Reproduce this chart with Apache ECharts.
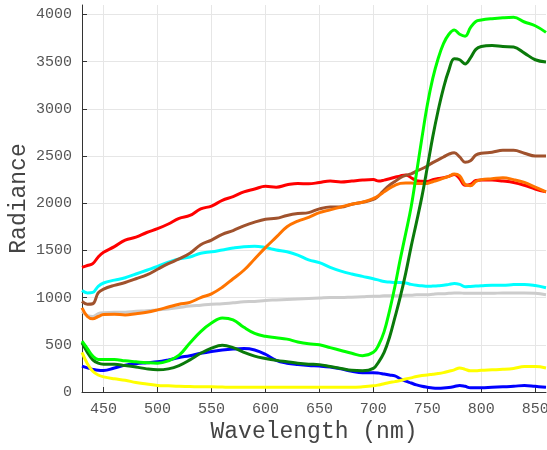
<!DOCTYPE html>
<html>
<head>
<meta charset="utf-8">
<script src="https://cdn.jsdelivr.net/npm/echarts@6/dist/echarts.min.js"></script>
<style>html,body{margin:0;padding:0;background:#fff}#c{width:547px;height:450px}</style>
</head>
<body>
<div id="c"></div>
<script>
const wavelengths = [430,435,440,445,450,460,470,480,490,500,510,520,530,540,550,560,570,580,590,600,610,620,630,640,650,660,670,680,690,700,705,710,715,720,725,730,735,740,745,750,755,760,765,770,775,780,785,790,795,800,810,820,830,840,850,860];

const silverVals = [855,810,800,830,840,845,845,855,860,870,880,895,910,920,930,935,945,955,960,970,975,980,985,990,995,1000,1000,1005,1010,1015,1015,1020,1020,1020,1020,1025,1025,1030,1030,1030,1035,1040,1040,1045,1050,1050,1045,1045,1045,1045,1045,1050,1050,1050,1045,1030];
const cyanVals = [1075,1050,1055,1120,1155,1185,1210,1250,1290,1330,1375,1410,1430,1470,1485,1505,1525,1540,1545,1530,1505,1485,1450,1400,1370,1320,1280,1250,1225,1200,1185,1170,1165,1160,1160,1155,1140,1130,1125,1120,1122,1125,1130,1140,1150,1140,1115,1118,1122,1125,1130,1130,1138,1140,1128,1105];
const blueVals = [275,255,240,230,228,255,285,300,310,320,340,365,385,410,430,445,455,460,445,400,335,305,290,280,275,265,245,220,205,205,200,190,180,170,140,115,95,75,60,50,42,40,42,48,58,70,60,45,45,45,50,55,60,70,60,50];
const yellowVals = [420,300,220,180,160,140,125,100,85,70,65,60,58,55,55,52,50,50,50,50,50,50,50,50,50,50,50,50,55,65,75,88,100,110,122,138,150,165,175,180,188,195,205,220,235,255,240,225,225,230,235,240,250,270,270,255];
const redVals = [1320,1340,1360,1430,1480,1540,1610,1640,1690,1730,1780,1840,1870,1940,1970,2030,2070,2120,2150,2180,2170,2195,2210,2205,2220,2235,2225,2235,2245,2250,2235,2245,2260,2275,2290,2300,2270,2240,2232,2230,2250,2262,2270,2285,2305,2260,2190,2200,2240,2245,2245,2235,2220,2190,2150,2120];
const brownVals = [960,930,935,1050,1090,1130,1160,1200,1240,1300,1360,1410,1470,1560,1610,1670,1710,1760,1800,1830,1840,1870,1890,1900,1940,1960,1960,1990,2010,2040,2080,2140,2190,2230,2270,2295,2310,2340,2365,2395,2430,2460,2490,2520,2535,2490,2435,2450,2510,2530,2540,2560,2560,2530,2500,2500];
const orangeVals = [890,800,775,800,820,825,815,830,845,870,900,930,950,1000,1040,1110,1200,1290,1410,1530,1640,1750,1810,1850,1900,1930,1960,1990,2010,2050,2080,2120,2160,2190,2210,2215,2215,2210,2208,2210,2228,2245,2265,2285,2310,2290,2200,2185,2230,2250,2260,2270,2250,2220,2170,2120];
const greenVals = [520,420,340,305,295,295,280,265,245,235,245,280,340,410,465,495,470,420,380,355,335,320,305,295,290,270,250,230,225,250,320,420,580,790,1010,1260,1540,1800,2070,2380,2700,2980,3220,3410,3530,3520,3475,3540,3630,3660,3670,3660,3655,3590,3520,3495];
const limeVals = [540,460,380,345,345,345,330,320,310,305,330,390,520,640,730,785,765,685,620,590,575,560,530,510,500,470,440,410,385,420,500,640,860,1120,1410,1680,1960,2320,2690,3040,3320,3530,3690,3790,3835,3790,3770,3860,3925,3940,3955,3965,3970,3920,3880,3810];

const seriesDefs = [
  ['silver', silverVals, '#cccccc'],
  ['cyan', cyanVals, '#00ffff'],
  ['blue', blueVals, '#0000ff'],
  ['yellow', yellowVals, '#ffff00'],
  ['red', redVals, '#ff0000'],
  ['brown', brownVals, '#a0522d'],
  ['orange', orangeVals, '#ff7400'],
  ['green', greenVals, '#0a7a0a'],
  ['lime', limeVals, '#00ff00']
];

const FONT = '"Liberation Mono", "DejaVu Sans Mono", monospace';
const chart = echarts.init(document.getElementById('c'), null, {renderer: 'canvas'});
chart.setOption({
  animation: false,
  backgroundColor: '#ffffff',
  grid: {left: 82, right: 1, top: 5, bottom: 58, containLabel: false, outerBoundsMode: 'none'},
  xAxis: {
    type: 'value', min: 430, max: 860, minInterval: 50, maxInterval: 50,
    name: 'Wavelength (nm)', nameLocation: 'middle', nameGap: 28, nameMoveOverlap: false,
    nameTextStyle: {fontFamily: FONT, fontSize: 23, color: '#444'},
    axisLine: {show: true, lineStyle: {color: '#333', width: 1}},
    axisTick: {show: true, inside: true, length: 5, lineStyle: {color: '#333'}},
    axisLabel: {fontFamily: FONT, fontSize: 15, color: '#555', margin: 10, showMinLabel: false, showMaxLabel: false, formatter: v => String(v)},
    splitLine: {show: true, showMinLine: false, showMaxLine: false, lineStyle: {color: '#e6e6e6', width: 1}}
  },
  yAxis: {
    type: 'value', min: 0, max: 4100, minInterval: 500, maxInterval: 500,
    name: 'Radiance', nameLocation: 'middle', nameGap: 52, nameMoveOverlap: false,
    nameTextStyle: {fontFamily: FONT, fontSize: 23, color: '#444'},
    axisLine: {show: true, lineStyle: {color: '#333', width: 1}},
    axisTick: {show: true, inside: true, length: 5, lineStyle: {color: '#333'}},
    axisLabel: {fontFamily: FONT, fontSize: 15, color: '#555', margin: 10, showMaxLabel: false, formatter: v => String(v)},
    splitLine: {show: true, showMaxLine: false, lineStyle: {color: '#e6e6e6', width: 1}}
  },
  series: seriesDefs.map(([name, vals, color]) => ({
    name, type: 'line', smooth: 0.4, symbol: 'none',
    data: wavelengths.map((w, i) => [w, vals[i]]),
    lineStyle: {color, width: 3},
    itemStyle: {color}
  }))
});
</script>
</body>
</html>
